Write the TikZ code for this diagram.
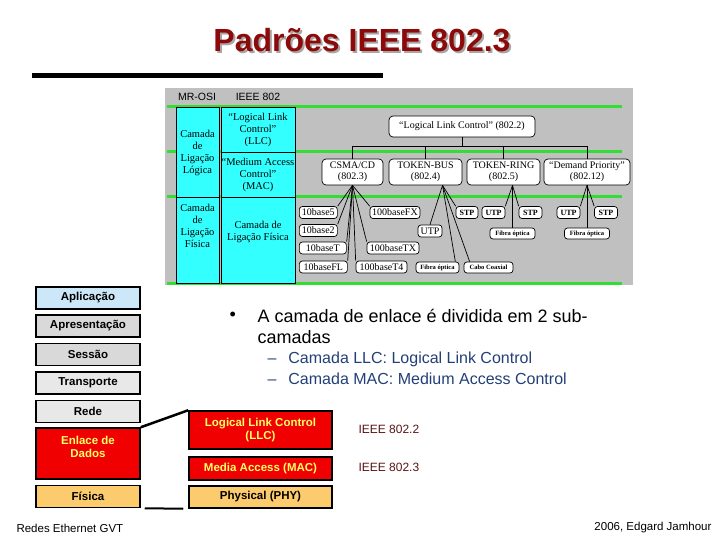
\documentclass[tikz,border=0pt]{standalone}
\usepackage{fontspec}
\setmainfont{Liberation Sans}
\newfontfamily\timesfont{Liberation Serif}
\usepackage{tikz}
\usepackage{xcolor}
\usetikzlibrary{positioning,calc}

\definecolor{titlered}{HTML}{8C0A0A}
\definecolor{panelgray}{HTML}{C0C0C0}
\definecolor{layergreen}{HTML}{33DD33}
\definecolor{layercyan}{HTML}{33FFFF}
\definecolor{subblue}{HTML}{233F78}
\definecolor{ieeered}{HTML}{5A1414}
\definecolor{osiblue}{HTML}{CCE8F8}
\definecolor{osigray}{HTML}{D9D9D9}
\definecolor{osilight}{HTML}{E8E8E8}
\definecolor{osired}{HTML}{F00000}
\definecolor{osiyellow}{HTML}{FFFF66}
\definecolor{osiorange}{HTML}{FBCB6E}

\begin{document}
\begin{tikzpicture}[x=1pt, y=-1pt,
    greenline/.style={layergreen, line width=3pt},
    cell/.style={fill=layercyan, draw=black, line width=0.6pt},
    celltext/.style={align=center, inner sep=0pt, font=\timesfont\fontsize{10.5}{12}\selectfont},
    stdbox/.style={draw, fill=white, rounded corners=4pt, align=center, inner sep=1pt, inner xsep=2pt, line width=0.7pt, font=\timesfont\fontsize{10}{11}\selectfont},
    mediabox/.style={stdbox, rounded corners=3pt, minimum height=12pt},
    smallbox/.style={mediabox, minimum height=12pt, font=\timesfont\bfseries\fontsize{8}{9}\selectfont},
    tinybox/.style={mediabox, minimum height=11pt, font=\timesfont\bfseries\fontsize{6.5}{7}\selectfont},
    fan/.style={line width=0.7pt},
    osibox/.style={draw, line width=1.5pt, minimum width=104pt, align=center, inner sep=1pt, font=\bfseries\fontsize{11.5}{13}\selectfont},
    ieeebox/.style={osibox, minimum width=143pt}]
    \useasboundingbox (0,0) rectangle (720,540);

    % Title
    \node[gray!70, font=\bfseries\fontsize{32}{36}\selectfont] (titleshadow) at (364,42) {Padrões IEEE 802.3};
    \node[titlered, font=\bfseries\fontsize{32}{36}\selectfont] (title) at (362,40) {Padrões IEEE 802.3};
    \fill (32,73) rectangle (383,78);

    % IEEE 802 panel
    \fill[panelgray] (165,88) rectangle (633,285);
    \draw[greenline] (167,107) -- (622,107);
    \draw[greenline] (167,152) -- (622,152);
    \draw[greenline] (167,197) -- (622,197);
    \draw[greenline] (167,283) -- (622,283);
    \node[font=\fontsize{10.5}{12}\selectfont] (osihead) at (197,97) {MR-OSI};
    \node[font=\fontsize{10.5}{12}\selectfont] (ieeehead) at (258,97) {IEEE 802};

    \filldraw[cell] (176,107) rectangle (219,197);
    \filldraw[cell] (176,197) rectangle (219,283);
    \filldraw[cell] (221,107) rectangle (295,152);
    \filldraw[cell] (221,152) rectangle (295,197);
    \filldraw[cell] (221,197) rectangle (295,283);
    \node[celltext] (logica) at (197.5,153) {Camada\\de\\Ligação\\Lógica};
    \node[celltext] (fisicacell) at (197.5,226) {Camada\\de\\Ligação\\Física};
    \node[celltext] (llccell) at (258,130) {“Logical Link\\Control”\\(LLC)};
    \node[celltext] (maccell) at (258,175) {“Medium Access\\Control”\\(MAC)};
    \node[celltext] (phycell) at (258,232) {Camada de\\Ligação Física};

    % standards
    \node[stdbox, minimum width=146pt, minimum height=21pt] (llcstd) at (462,126.5) {“Logical Link Control” (802.2)};
    \node[stdbox, minimum width=61pt, minimum height=26pt] (csma) at (352.5,172) {CSMA/CD\\(802.3)};
    \node[stdbox, minimum width=73pt, minimum height=26pt] (bus) at (425.5,172) {TOKEN-BUS\\(802.4)};
    \node[stdbox, minimum width=73pt, minimum height=26pt] (ring) at (503.5,172) {TOKEN-RING\\(802.5)};
    \node[stdbox, minimum width=86pt, minimum height=26pt] (dp) at (587,172) {“Demand Priority”\\(802.12)};
    \coordinate (tree) at (462,146);
    \draw[fan] (llcstd.south) -- (tree);
    \draw[fan] (csma.north) |- (tree);
    \draw[fan] (bus.north) |- (tree);
    \draw[fan] (ring.north) |- (tree);
    \draw[fan] (dp.north) |- (tree);

    % CSMA/CD media
    \node[mediabox, anchor=west, minimum width=38pt] (b5) at (299,212.5) {10base5};
    \node[mediabox, anchor=west, minimum width=38pt] (b2) at (299,230.5) {10base2};
    \node[mediabox, anchor=west, minimum width=47pt] (bT) at (299,248) {10baseT};
    \node[mediabox, anchor=west, minimum width=48pt] (fl) at (299,267) {10baseFL};
    \node[mediabox, minimum width=50pt] (fx) at (395,212.5) {100baseFX};
    \node[mediabox, minimum width=52pt] (tx) at (393,248) {100baseTX};
    \node[mediabox, minimum width=51pt] (t4) at (381.5,267) {100baseT4};
    \foreach \m/\a in {b5/north east, b2/north east, bT/north east, fl/north east, t4/north west, tx/north west, fx/north west}
        \draw[fan] (csma.south) -- (\m.\a);

    % TOKEN-BUS media
    \node[mediabox, minimum width=24pt] (utpA) at (430,231) {UTP};
    \node[smallbox, minimum width=22pt] (stpA) at (467,212.5) {STP};
    \node[tinybox, minimum width=43pt] (fibA) at (437.5,267.5) {Fibra óptica};
    \node[tinybox, minimum width=49pt] (coax) at (488.5,267.5) {Cabo Coaxial};
    \draw[fan] ([xshift=17pt]bus.south) -- (utpA.north);
    \draw[fan] ([xshift=17pt]bus.south) -- ([xshift=-4pt]fibA.north east);
    \draw[fan] ([xshift=17pt]bus.south) -- ([xshift=6pt]coax.north west);
    \draw[fan] ([xshift=17pt]bus.south) -- (stpA.north west);

    % TOKEN-RING media
    \node[smallbox, minimum width=23pt] (utpB) at (493.5,212.5) {UTP};
    \node[smallbox, minimum width=23pt] (stpB) at (530.5,212.5) {STP};
    \node[tinybox, minimum width=45pt] (fibB) at (512.5,233.5) {Fibra óptica};
    \draw[fan] ([xshift=9pt]ring.south) -- (utpB.north east);
    \draw[fan] ([xshift=9pt]ring.south) -- (fibB.north);
    \draw[fan] ([xshift=9pt]ring.south) -- (stpB.north west);

    % Demand Priority media
    \node[smallbox, minimum width=23pt] (utpC) at (568.5,212.5) {UTP};
    \node[smallbox, minimum width=23pt] (stpC) at (606,212.5) {STP};
    \node[tinybox, minimum width=45pt] (fibC) at (587,233.5) {Fibra óptica};
    \draw[fan] (dp.south) -- (utpC.north east);
    \draw[fan] (dp.south) -- (fibC.north);
    \draw[fan] (dp.south) -- (stpC.north west);

    % Bullets
    \node[anchor=west, font=\fontsize{18}{21}\selectfont] (dot) at (226,316) {•};
    \node[anchor=west, align=left, font=\fontsize{18}{21}\selectfont] (enlacetxt) at (254,326.5) {A camada de enlace é dividida em 2 sub-\\camadas};
    \node[anchor=west, align=left, subblue, font=\fontsize{16}{21}\selectfont] (subtxt) at (264,368.5) {–\hspace{12pt}Camada LLC: Logical Link Control\\–\hspace{12pt}Camada MAC: Medium Access Control};

    % OSI stack
    \node[osibox, fill=osiblue, minimum height=22pt] (aplic) at (88,298) {Aplicação};
    \node[osibox, fill=osigray, minimum height=22pt] (apres) at (88,326) {Apresentação};
    \node[osibox, fill=osigray, minimum height=22pt] (sessao) at (88,354.5) {Sessão};
    \node[osibox, fill=osilight, minimum height=22pt] (transp) at (88,383) {Transporte};
    \node[osibox, fill=osilight, minimum height=22pt] (rede) at (88,411.5) {Rede};
    \node[osibox, fill=osired, text=osiyellow, minimum height=51pt] (enlace) at (88,453.5) {Enlace de\\Dados\\\mbox{}};
    \node[osibox, fill=osiorange, minimum height=22pt] (fisica) at (88,496.5) {Física};

    % IEEE sublayers
    \node[ieeebox, fill=osired, text=osiyellow, minimum height=38pt] (llcbox) at (260.5,430) {Logical Link Control\\(LLC)};
    \node[ieeebox, fill=osired, text=osiyellow, minimum height=23pt] (macbox) at (260.5,468.5) {Media Access (MAC)};
    \node[ieeebox, fill=osiorange, minimum height=22pt] (phybox) at (260.5,497) {Physical (PHY)};
    \draw[line width=2.5pt] (enlace.north east) -- (llcbox.north west);
    \draw[line width=2pt] ([xshift=4pt]fisica.south east) -- ([xshift=-5pt]phybox.south west);
    \node[anchor=west, ieeered, font=\fontsize{12}{14}\selectfont] (ieeellc) at (355,429) {IEEE 802.2};
    \node[anchor=west, ieeered, font=\fontsize{12}{14}\selectfont] (ieeemac) at (355,467) {IEEE 802.3};

    % Footer
    \node[anchor=west, font=\fontsize{11.5}{13}\selectfont] (course) at (13,528) {Redes Ethernet GVT};
    \node[anchor=east, font=\fontsize{11.5}{13}\selectfont] (author) at (715,528) {2006, Edgard Jamhour};
\end{tikzpicture}
\end{document}
